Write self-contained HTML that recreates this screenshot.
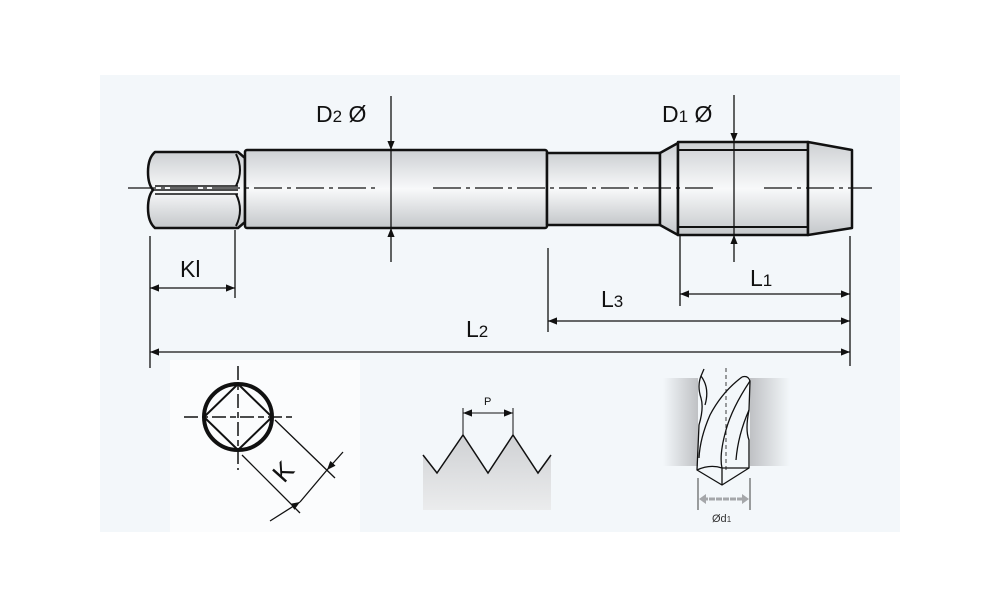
<!DOCTYPE html>
<html><head><meta charset="utf-8"><style>
html,body{margin:0;padding:0;background:#fff;}
svg{display:block;font-family:"Liberation Sans",sans-serif;}
</style></head><body>
<svg width="1000" height="611" viewBox="0 0 1000 611" xmlns="http://www.w3.org/2000/svg">
<defs>
<linearGradient id="cyl" x1="0" y1="0" x2="0" y2="1">
<stop offset="0" stop-color="#cdd0d3"/><stop offset="0.5" stop-color="#f8f9fa"/><stop offset="1" stop-color="#c4c7ca"/>
</linearGradient>
<linearGradient id="gfill" x1="0" y1="0" x2="0" y2="1">
<stop offset="0" stop-color="#cfd1d4"/><stop offset="1" stop-color="#ebeced"/>
</linearGradient>
<linearGradient id="holeL" x1="0" y1="0" x2="1" y2="0">
<stop offset="0" stop-color="#f3f7fa"/><stop offset="1" stop-color="#bfc1c4"/>
</linearGradient>
<linearGradient id="holeR" x1="0" y1="0" x2="1" y2="0">
<stop offset="0" stop-color="#bfc1c4"/><stop offset="1" stop-color="#f3f7fa"/>
</linearGradient>
<marker id="ar" viewBox="0 0 10 10" refX="10" refY="5" markerWidth="9" markerHeight="9" orient="auto-start-reverse" markerUnits="userSpaceOnUse"><path d="M0,1 L10,5 L0,9z" fill="#111"/></marker>
</defs>
<rect x="100" y="75" width="800" height="457" fill="#f3f7fa"/>
<rect x="170" y="360" width="190" height="172" fill="#fbfcfd"/>
<g stroke="#111" stroke-width="2.5" stroke-linejoin="round">
<path d="M155,152 L238,152 L245,158 L245,222 L238,228 L155,228 Q148,222 148,208 Q148,196 153,190 Q148,184 148,172 Q148,158 155,152z" fill="url(#cyl)"/>
<path d="M153,190 L238,190 M155,186 L238,186 M155,194 L238,194" stroke-width="1.5" fill="none"/>
<path d="M236,154 Q244,170 236,186 M236,194 Q244,210 236,226" fill="none" stroke-width="2"/>
<rect x="245" y="150" width="302" height="78" rx="2" fill="url(#cyl)"/>
<rect x="547" y="153" width="113" height="72" fill="url(#cyl)"/>
<path d="M660,153 L678,143 L678,235 L660,225z" fill="url(#cyl)"/>
<rect x="678" y="142" width="130" height="93" fill="url(#cyl)"/>
<path d="M678,150 L808,150 M678,227 L808,227" fill="none" stroke-width="2"/>
<path d="M808,142 L852,150 L852,228 L808,235z" fill="url(#cyl)"/>
</g>
<path d="M128,188 L378,188 M433,188 L718,188 M764,188 L872,188" stroke="#111" stroke-width="1.3" stroke-dasharray="28,5,4,5" fill="none"/>
<g stroke="#111" stroke-width="1.3" fill="none">
<line x1="391" y1="96" x2="391" y2="150" marker-end="url(#ar)"/>
<line x1="391" y1="150" x2="391" y2="228"/>
<line x1="391" y1="262" x2="391" y2="228" marker-end="url(#ar)"/>
<line x1="734" y1="95" x2="734" y2="142" marker-end="url(#ar)"/>
<line x1="734" y1="142" x2="734" y2="235"/>
<line x1="734" y1="262" x2="734" y2="235" marker-end="url(#ar)"/>
<line x1="150" y1="236" x2="150" y2="368"/>
<line x1="235" y1="230" x2="235" y2="298"/>
<line x1="548" y1="248" x2="548" y2="332"/>
<line x1="680" y1="236" x2="680" y2="306"/>
<line x1="850" y1="236" x2="850" y2="366"/>
<line x1="150" y1="288" x2="235" y2="288" marker-start="url(#ar)" marker-end="url(#ar)"/>
<line x1="680" y1="294" x2="850" y2="294" marker-start="url(#ar)" marker-end="url(#ar)"/>
<line x1="548" y1="321" x2="850" y2="321" marker-start="url(#ar)" marker-end="url(#ar)"/>
<line x1="150" y1="352" x2="850" y2="352" marker-start="url(#ar)" marker-end="url(#ar)"/>
</g>
<g fill="#111" font-size="23">
<text x="316" y="122">D<tspan font-size="17">2</tspan> Ø</text>
<text x="662" y="122">D<tspan font-size="17">1</tspan> Ø</text>
<text x="180" y="277">Kl</text>
<text x="750" y="286">L<tspan font-size="17">1</tspan></text>
<text x="601" y="307">L<tspan font-size="17">3</tspan></text>
<text x="466" y="337">L<tspan font-size="17">2</tspan></text>
</g>
<g stroke="#111" fill="none">
<ellipse cx="238" cy="417" rx="34" ry="33" stroke-width="4"/>
<path d="M238,384 L272,417 L238,450 L204,417z" stroke-width="2"/>
<line x1="238" y1="366" x2="238" y2="470" stroke-width="1.5" stroke-dasharray="14,4,6,4"/>
<line x1="184" y1="417" x2="294" y2="417" stroke-width="1.5" stroke-dasharray="14,4,6,4"/>
<line x1="275" y1="420" x2="335" y2="478" stroke-width="1.3"/>
<line x1="242" y1="455" x2="300" y2="513" stroke-width="1.3"/>
<line x1="270" y1="521" x2="300" y2="502" stroke-width="1.3" marker-end="url(#ar)"/>
<line x1="300" y1="502" x2="327" y2="470" stroke-width="1.3"/>
<line x1="343" y1="452" x2="327" y2="470" stroke-width="1.3" marker-end="url(#ar)"/>
</g>
<text x="0" y="0" font-size="26" fill="#111" transform="translate(284,484) rotate(-48)">K</text>
<path d="M423,476 L423,455 L437,473 L463,435 L488,473 L513,435 L538,473 L551,455 L551,510 L423,510z" fill="url(#gfill)"/>
<path d="M423,455 L437,473 L463,435 L488,473 L513,435 L538,473 L551,455" fill="none" stroke="#111" stroke-width="1.5"/>
<g stroke="#111" stroke-width="1" fill="none">
<line x1="463" y1="408" x2="463" y2="435"/><line x1="513" y1="408" x2="513" y2="435"/>
<line x1="463" y1="413" x2="513" y2="413" marker-start="url(#ar)" marker-end="url(#ar)"/>
</g>
<text x="484" y="405" font-size="11" fill="#111">P</text>
<!-- drill -->
<rect x="663" y="378" width="35" height="88" fill="url(#holeL)"/>
<rect x="750" y="378" width="40" height="88" fill="url(#holeR)"/>
<g stroke="#111" stroke-width="1.3" fill="none" stroke-linejoin="round">
<line x1="726" y1="368" x2="726" y2="472" stroke-dasharray="4,3" stroke-width="0.8"/>
<path d="M704,369 L701,376 Q697,386 701,398 Q704,408 699,425 L697,470 L722,485 L749,468 L749,440 Q745,430 749,410 L750,381 Q748,375 742,377"/>
<path d="M742,377 Q722,392 710,415 Q700,438 699,458"/>
<path d="M750,381 Q732,408 726,430 Q719,455 722,468"/>
<path d="M749,410 Q738,435 736,460"/>
<path d="M697,470 Q710,464 722,468 L722,485 M722,468 L749,468"/>
<path d="M701,376 Q710,388 705,405"/>
<line x1="698" y1="478" x2="698" y2="510" stroke-width="0.8"/>
<line x1="750" y1="478" x2="750" y2="510" stroke-width="0.8"/>
</g>
<line x1="702" y1="499" x2="746" y2="499" stroke="#a5a7aa" stroke-width="3" stroke-dasharray="6,1"/>
<path d="M699,499 L706,494 L706,504z M749,499 L742,494 L742,504z" fill="#a5a7aa"/>
<text x="712" y="522" font-size="11" fill="#333">Ød<tspan font-size="8">1</tspan></text>
</svg>
</body></html>
